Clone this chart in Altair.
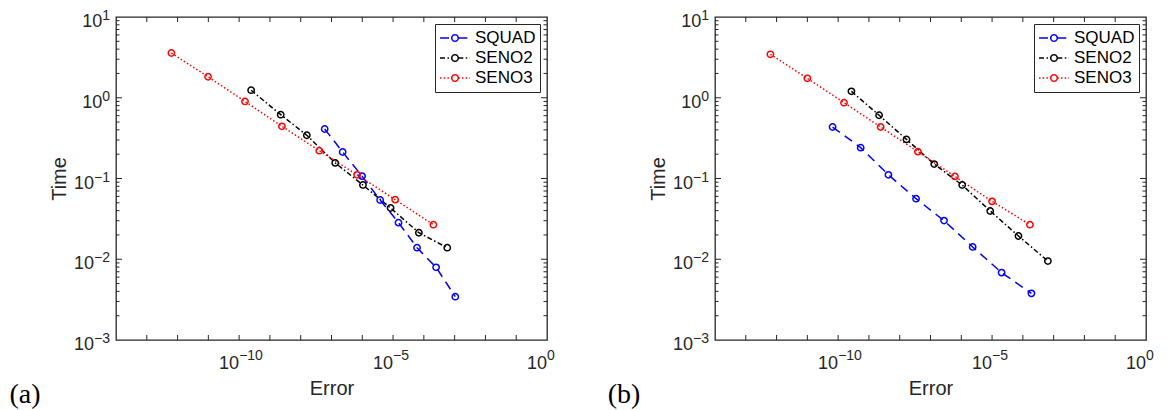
import math
import altair as alt
import pandas as pd

# ---------------- data ----------------
SERIES = ["SQUAD", "SENO2", "SENO3"]
COLORS = ["#0000ff", "#000000", "#ff0000"]
DASHES = [[9, 6], [5, 2.5, 1.5, 2.5], [1.5, 2.2]]

# panel (a)
A_SQUAD_ERR = [6.0e-8, 2.3e-7, 9.8e-7, 3.8e-6, 1.5e-5, 6.0e-5, 2.5e-4, 1.05e-3]
A_SQUAD_TIME = [0.410, 0.213, 0.107, 0.0542, 0.0284, 0.0139, 0.00794, 0.00344]
A_SENO2_ERR = [2.45e-10, 2.24e-9, 1.58e-8, 1.32e-7, 1.05e-6, 8.3e-6, 6.9e-5, 5.75e-4]
A_SENO2_TIME = [1.24, 0.617, 0.343, 0.156, 0.083, 0.0431, 0.0213, 0.0139]
A_SENO3_ERR = [6.3e-13, 9.8e-12, 1.55e-10, 2.45e-9, 4.0e-8, 6.8e-7, 1.17e-5, 2.04e-4]
A_SENO3_TIME = [3.58, 1.82, 0.90, 0.443, 0.221, 0.111, 0.0547, 0.0268]

# panel (b)
B_SQUAD_ERR = [6.6e-11, 5.4e-10, 4.3e-9, 3.4e-8, 2.75e-7, 2.34e-6, 2.04e-5, 1.9e-4]
B_SQUAD_TIME = [0.434, 0.241, 0.111, 0.0562, 0.0301, 0.0142, 0.00683, 0.00378]
B_SENO2_ERR = [2.7e-10, 2.14e-9, 1.66e-8, 1.32e-7, 1.07e-6, 8.7e-6, 7.2e-5, 6.5e-4]
B_SENO2_TIME = [1.20, 0.607, 0.305, 0.151, 0.083, 0.0396, 0.0194, 0.0095]
B_SENO3_ERR = [6.3e-13, 1.0e-11, 1.55e-10, 2.4e-9, 3.9e-8, 6.2e-7, 1.0e-5, 1.7e-4]
B_SENO3_TIME = [3.45, 1.74, 0.869, 0.434, 0.215, 0.106, 0.0521, 0.0268]

X_TICK_VALUES = [1e-10, 1e-5, 1e0]
X_TICK_EXP = ["\u221210", "\u22125", "0"]
Y_TICK_VALUES = [1e-3, 1e-2, 1e-1, 1e0, 1e1]
Y_TICK_EXP = ["\u22123", "\u22122", "\u22121", "0", "1"]
PANEL_LABELS = ["(a)", "(b)"]

X_DOMAIN = [1e-14, 1e0]
Y_DOMAIN = [1e-3, 1e1]
X_MINOR = [10.0 ** e for e in range(-13, 0)]
Y_MAJOR = [1e-2, 1e-1, 1e0]
Y_MINOR = [m * 10.0 ** e for e in range(-3, 1) for m in range(2, 10)]

# ---------------- style ----------------
W, H = 431, 323
FONT = "Liberation Sans"
AXC = "#262626"
BASE_FS, EXP_FS = 18, 14
Y_GAP = 6


def text_w(s, fs):
    return sum(0.584 if c == "\u2212" else 0.556 for c in s) * fs


BASE_W = text_w("10", BASE_FS)


def legend_path(r=0.22, n=24):
    parts = ["M-1,0L%.3f,0" % (-r), "M%.3f,0L1,0" % r]
    for i in range(n):
        a0 = 2 * math.pi * i / n
        a1 = 2 * math.pi * (i + 1) / n
        parts.append("M%.4f,%.4fL%.4f,%.4f" % (r * math.cos(a0), r * math.sin(a0),
                                               r * math.cos(a1), r * math.sin(a1)))
    return "".join(parts)


XS = alt.Scale(type="log", domain=X_DOMAIN, nice=False)
YS = alt.Scale(type="log", domain=Y_DOMAIN, nice=False)
XA = alt.Axis(title="Error", labels=False, ticks=False, domain=False, grid=False,
              titleFont=FONT, titleFontSize=20, titleFontWeight="normal",
              titleColor=AXC, titlePadding=38, minExtent=0, maxExtent=0)
YA = alt.Axis(title="Time", labels=False, ticks=False, domain=False, grid=False,
              titleFont=FONT, titleFontSize=20, titleFontWeight="normal",
              titleColor=AXC, titlePadding=47, minExtent=0, maxExtent=0)

LEG = alt.Legend(title=None, orient="top-right", offset=7,
                 symbolType=legend_path(), symbolSize=900, symbolStrokeWidth=1.5,
                 labelFont=FONT, labelFontSize=17, labelColor="black",
                 labelOffset=4, padding=4, strokeColor=AXC, fillColor="white",
                 clipHeight=20, rowPadding=0, cornerRadius=0)


def xe(f):
    return alt.X(f, type="quantitative", scale=XS, axis=XA)


def ye(f):
    return alt.Y(f, type="quantitative", scale=YS, axis=YA)


def series_df(errs, times):
    rows = []
    for s, e_list, t_list in zip(SERIES, errs, times):
        for i, (x, y) in enumerate(zip(e_list, t_list)):
            rows.append({"series": s, "err": x, "time": y, "i": i})
    return pd.DataFrame(rows)


def panel(errs, times, label):
    df = series_df(errs, times)
    color = alt.Color("series:N", scale=alt.Scale(domain=SERIES, range=COLORS), legend=LEG)
    dash = alt.StrokeDash("series:N", scale=alt.Scale(domain=SERIES, range=DASHES), legend=LEG)

    lines = alt.Chart(df).mark_line(strokeWidth=1.5).encode(
        x=xe("err"), y=ye("time"), color=color, strokeDash=dash, order="i:Q")
    pts = alt.Chart(df).mark_point(filled=False, size=40, strokeWidth=1.5, opacity=1).encode(
        x=xe("err"), y=ye("time"), color=color)

    xt = pd.DataFrame({"v": X_MINOR})
    ymaj = pd.DataFrame({"v": Y_MAJOR})
    ymin = pd.DataFrame({"v": Y_MINOR})
    rule = dict(color=AXC, strokeWidth=1)
    ticks = [
        alt.Chart(xt).mark_rule(**rule).encode(x=xe("v"), y=alt.value(H), y2=alt.value(H - 5)),
        alt.Chart(xt).mark_rule(**rule).encode(x=xe("v"), y=alt.value(0), y2=alt.value(5)),
        alt.Chart(ymaj).mark_rule(**rule).encode(y=ye("v"), x=alt.value(0), x2=alt.value(6)),
        alt.Chart(ymaj).mark_rule(**rule).encode(y=ye("v"), x=alt.value(W), x2=alt.value(W - 6)),
        alt.Chart(ymin).mark_rule(**rule).encode(y=ye("v"), x=alt.value(0), x2=alt.value(3.5)),
        alt.Chart(ymin).mark_rule(**rule).encode(y=ye("v"), x=alt.value(W), x2=alt.value(W - 3.5)),
    ]

    xlab = pd.DataFrame({"v": X_TICK_VALUES, "exp": X_TICK_EXP})
    xlab["off"] = [(BASE_W - text_w(e, EXP_FS)) / 2 for e in X_TICK_EXP]
    xbase = alt.Chart(xlab).mark_text(align="right", baseline="middle", font=FONT,
                                      fontSize=BASE_FS, color=AXC, dy=23.5).encode(
        x=xe("v"), xOffset=alt.XOffset("off:Q", scale=None), y=alt.value(H), text=alt.value("10"))
    xexp = alt.Chart(xlab).mark_text(align="left", baseline="middle", font=FONT,
                                     fontSize=EXP_FS, color=AXC, dy=16).encode(
        x=xe("v"), xOffset=alt.XOffset("off:Q", scale=None), y=alt.value(H), text="exp:N")

    ylab = pd.DataFrame({"v": Y_TICK_VALUES, "exp": Y_TICK_EXP})
    yexp = alt.Chart(ylab).mark_text(align="right", baseline="middle", font=FONT,
                                     fontSize=EXP_FS, color=AXC, dx=-Y_GAP, dy=-1).encode(
        x=alt.value(0), y=ye("v"), text="exp:N")
    ybases = []
    for n, sample in ((1, "1"), (2, "\u22121")):
        ybases.append(
            alt.Chart(ylab).transform_filter(f"length(datum.exp) == {n}").mark_text(
                align="right", baseline="middle", font=FONT, fontSize=BASE_FS, color=AXC,
                dx=-(Y_GAP + text_w(sample, EXP_FS)), dy=5).encode(
                x=alt.value(0), y=ye("v"), text=alt.value("10")))

    plab = alt.Chart(pd.DataFrame({"t": [label]})).mark_text(
        font="Liberation Serif", fontSize=28, align="center", baseline="middle",
        color="black").encode(x=alt.value(-91), y=alt.value(H + 55), text="t:N")

    return alt.layer(lines, pts, *ticks, xbase, xexp, yexp, *ybases, plab).properties(
        width=W, height=H)


pa = panel([A_SQUAD_ERR, A_SENO2_ERR, A_SENO3_ERR], [A_SQUAD_TIME, A_SENO2_TIME, A_SENO3_TIME],
           PANEL_LABELS[0])
pb = panel([B_SQUAD_ERR, B_SENO2_ERR, B_SENO3_ERR], [B_SQUAD_TIME, B_SENO2_TIME, B_SENO3_TIME],
           PANEL_LABELS[1])

chart = alt.hconcat(pa, pb, spacing=51).resolve_scale(
    color="independent", strokeDash="independent").properties(
    padding={"left": 0, "top": 0, "right": 0, "bottom": 0}).configure(
    background="white").configure_view(stroke=AXC, strokeWidth=1.3)

chart.save("out.html", embed_options={"renderer": "svg", "actions": False})
